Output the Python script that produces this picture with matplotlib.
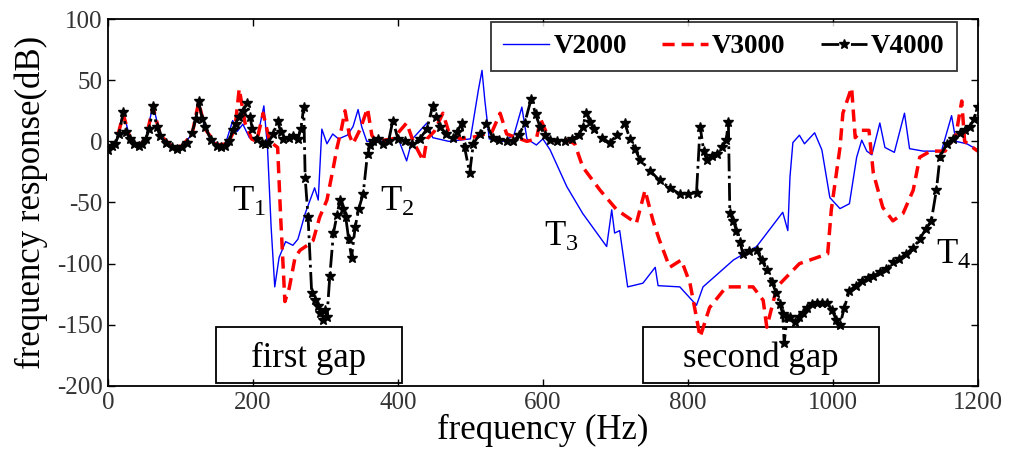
import matplotlib
matplotlib.use("Agg")
import matplotlib.pyplot as plt
from matplotlib.patches import Rectangle

plt.rcParams["font.family"] = ["Liberation Serif", "DejaVu Serif"]
plt.rcParams["mathtext.fontset"] = "custom"
plt.rcParams["mathtext.rm"] = "Liberation Serif"
plt.rcParams["axes.unicode_minus"] = False

# V2000 (blue)
f_v2000 = [0, 10, 21, 30, 42, 52, 62, 72, 88, 102, 116, 125, 134, 150, 162, 172, 178, 186,
           195, 205, 215, 220, 225, 230, 236, 245, 255, 262, 272, 285, 290, 295, 302, 310,
           318, 330, 338, 345, 350, 357, 370, 390, 400, 412, 420, 440, 448, 470, 500, 511,
           516, 520, 526, 545, 560, 571, 578, 591, 600, 610, 633, 655, 688, 695, 699, 706,
           717, 738, 755, 759, 789, 812, 821, 863, 895, 931, 938, 941, 945, 954, 961, 975,
           985, 996, 1010, 1023, 1033, 1040, 1047, 1054, 1065, 1072, 1085, 1099, 1106, 1125,
           1150, 1164, 1170, 1185, 1200]
r_v2000 = [-7, -3, 24, 3, -4, 2, 30, 5, -4, -4, 6, 33, 10, -3, -2, 17, 8, 14,
           3, 0, 29, -5, -70, -119, -95, -82, -85, -80, -59, -38, -48, 10, -2, 6,
           2, 5, 12, 26, 12, 0, 0, 0, 3, -16, 2, 15, 3, 0, 2, 42,
           58, 33, 2, 0, 5, 28, 2, -3, 2, -7, -37, -59, -86, -56, -75, -73,
           -119, -116, -103, -118, -119, -134, -119, -97, -86, -58, -73, -29, -1, 5, -2, 7,
           -7, -46, -55, -51, -13, 1, -8, -11, 15, -5, -9, 23, -6, -8,
           -8, 21, 0, -2, -7]

# V3000 (red)
f_v3000 = [0, 10, 21, 30, 42, 52, 62, 72, 88, 102, 116, 125, 134, 150, 165, 175, 181, 189,
           198, 205, 214, 223, 234, 238, 244, 250, 258, 265, 275, 283, 292, 302, 311, 316,
           322, 327, 333, 338, 348, 358, 364, 370, 393, 412, 421, 435, 440, 450, 462, 470,
           486, 510, 530, 541, 550, 578, 591, 597, 610, 630, 644, 655, 679, 702, 729, 741,
           752, 761, 775, 791, 803, 817, 830, 853, 890, 904, 909, 923, 954, 993, 998, 1010,
           1014, 1026, 1031, 1040, 1050, 1056, 1069, 1083, 1097, 1111, 1120, 1135, 1155, 1170,
           1178, 1182, 1200]
r_v3000 = [-7, -3, 22, 3, -4, 2, 28, 5, -4, -4, 6, 32, 10, -3, -2, 10, 43, 15,
           2, 0, 23, 0, -5, -60, -131, -120, -95, -89, -85, -81, -62, -48, -21, -5,
           10, 25, 5, -2, 10, 27, 5, 0, 2, 15, 0, -16, 2, 8, 23, 8,
           2, 4, 8, 23, 6, 0, 2, 18, 0, 2, -2, -21, -40, -56, -67, -40,
           -65, -81, -103, -97, -116, -160, -136, -119, -119, -130, -152, -119, -100, -92, -56, -5,
           23, 44, 3, 9, 9, -26, -54, -65, -59, -40, -13, -8, -8, 5,
           33, 0, -8]

# V4000 (black)
f_v4000 = [0, 5, 10, 15, 21, 25, 30, 36, 42, 47, 52, 57, 62, 67, 72, 80, 88, 95, 102, 109,
           116, 121, 125, 130, 134, 142, 150, 156, 161, 167, 172, 177, 181, 186, 192, 196,
           199, 206, 212, 217, 221, 228, 234, 238, 242, 249, 255, 262, 266, 270, 272, 276,
           281, 286, 290, 293, 296, 299, 302, 306, 311, 316, 320, 324, 328, 332, 336, 341,
           346, 352, 358, 362, 366, 373, 380, 387, 393, 400, 410, 420, 430, 440, 448, 453,
           458, 467, 476, 482, 488, 492, 499, 504, 513, 522, 531, 540, 550, 559, 567, 575,
           584, 590, 596, 603, 610, 620, 630, 640, 650, 655, 660, 665, 670, 681, 692, 702,
           713, 720, 727, 734, 748, 761, 775, 789, 800, 812, 817, 822, 826, 833, 840, 847,
           853, 856, 858, 863, 867, 872, 876, 885, 895, 902, 909, 916, 922, 927, 931, 933,
           937, 941, 948, 954, 959, 964, 971, 978, 985, 992, 999, 1005, 1010, 1016, 1023,
           1032, 1040, 1048, 1056, 1065, 1074, 1083, 1092, 1101, 1111, 1120, 1128, 1136, 1143,
           1148, 1157, 1166, 1175, 1182, 1189, 1195, 1200]
r_v4000 = [-7, -4, -2, 6, 24, 8, 2, -2, -4, -2, 2, 10, 29, 12, 4, -1, -5, -6, -5, -1,
           7, 18, 33, 18, 12, 1, -4, -5, -4, 0, 9, 14, 20, 25, 31, 20,
           10, 2, -1, -2, -1, 6, 17, 8, 2, 3, 4, 2, 10, 28, -30, -62,
           -124, -130, -135, -140, -146, -138, -144, -110, -75, -60, -48, -55, -62, -80, -95, -70,
           -55, -43, -10, -3, 0, 2, -2, 0, 17, 2, 0, -2, 2, 10, 29, 20,
           12, 6, 3, 8, 15, -5, -26, -2, 6, 14, 3, 1, 0, 0, 5, 15,
           35, 22, 12, 5, 1, 0, 0, 2, 5, 12, 23, 16, 10, 3, -1, 5,
           15, 2, -6, -15, -24, -32, -38, -43, -43, -42, 12, -8, -15, -12, -10, -5,
           1, 16, -59, -65, -73, -82, -92, -90, -89, -97, -105, -115, -124, -133, -141, -165,
           -144, -144, -148, -144, -140, -136, -133, -132, -132, -132, -138, -146, -150, -136, -122,
           -118, -114, -112, -110, -107, -104, -99, -96, -92, -87, -80, -72, -65, -40,
           -13, -2, 2, 7, 9, 12, 18, 28]

fig, ax = plt.subplots(figsize=(10.1, 4.53), dpi=100)
fig.subplots_adjust(left=0.107, right=0.968, top=0.958, bottom=0.148)

ax.plot(f_v2000, r_v2000, color="#0000ff", lw=1.0, label="V2000")
ax.plot(f_v3000, r_v3000, color="#ff0000", lw=2.5, ls=(0, (3.5, 2)), label="V3000")
ax.plot(f_v4000, r_v4000, color="black", lw=2.0, ls="-.", marker="*", markersize=7,
        markeredgewidth=1.0, label="V4000")

ax.set_xlim(0, 1200)
ax.set_ylim(-200, 100)
ax.set_xticks([0, 200, 400, 600, 800, 1000, 1200])
ax.set_yticks([-200, -150, -100, -50, 0, 50, 100])
ax.tick_params(direction="in", top=True, right=True, length=5, width=1,
               labelsize=18, labelcolor="#333333", pad=4)
for s in ax.spines.values():
    s.set_linewidth(1.3)

ax.set_xlabel("frequency (Hz)", fontsize=25, labelpad=0)
ax.set_ylabel("frequency response(dB)", fontsize=25, labelpad=6)

leg = ax.legend(loc="upper right", bbox_to_anchor=(0.976, 0.992), borderaxespad=0,
                ncol=3, frameon=True, fancybox=False, handlelength=1.7,
                handletextpad=0.15, columnspacing=1.3, borderpad=0.45,
                prop={"family": "Liberation Serif", "weight": "bold", "size": 19.5})
leg.get_frame().set_edgecolor("black")
leg.get_frame().set_linewidth(1.3)

# gap boxes
for x0, x1, label in [(0.124, 0.338, "first gap"), (0.615, 0.887, "second gap")]:
    ax.add_patch(Rectangle((x0, 0.008), x1 - x0, 0.153, transform=ax.transAxes,
                           fill=False, edgecolor="black", lw=1.3, zorder=1))
    ax.text((x0 + x1) / 2, 0.075, label, transform=ax.transAxes, ha="center",
            va="center", fontsize=25, zorder=1)

# transition labels
for x, y, lab in [(0.143, 0.50, r"$\mathregular{T_1}$"), (0.313, 0.50, r"$\mathregular{T_2}$"),
                  (0.501, 0.405, r"$\mathregular{T_3}$"), (0.952, 0.356, r"$\mathregular{T_4}$")]:
    ax.text(x, y, lab, transform=ax.transAxes, ha="left", va="center", fontsize=25)

fig.savefig("out.png", dpi=100)
